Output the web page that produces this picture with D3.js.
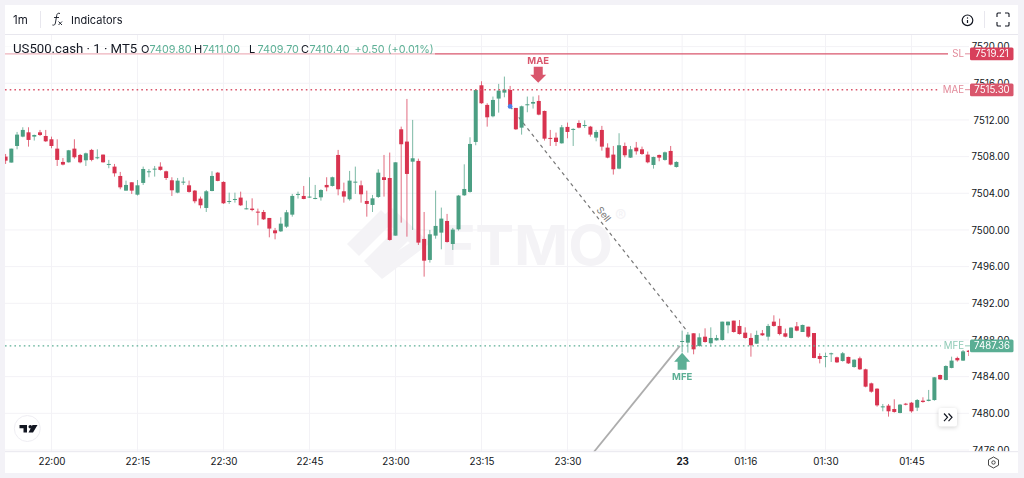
<!DOCTYPE html>
<html><head><meta charset="utf-8">
<script src="https://cdn.jsdelivr.net/npm/d3@7/dist/d3.min.js"></script>
<style>
html,body{margin:0;padding:0;background:#f3f2f7;width:1024px;height:478px;overflow:hidden}
svg{display:block;filter:blur(0.35px)}
text{font-family:Inter,Roboto,"Noto Sans",sans-serif}
</style></head><body><svg id="c" width="1024" height="478"></svg>
<script>
const firstIndex = -8;
const opens = [7508.00,7507.35,7509.16,7510.18,7510.65,7510.18,7510.65,7510.25,7509.89,7508.87,
7507.42,7507.38,7508.87,7508.18,7507.60,7508.73,7507.85,7508.22,7507.13,7506.91,
7505.89,7504.29,7505.20,7503.85,7505.13,7506.33,7506.62,7506.91,7506.40,7505.42,
7504.07,7505.20,7504.87,7504.29,7503.42,7502.40,7504.25,7506.25,7505.24,7503.09,
7503.31,7503.53,7502.29,7502.33,7502.00,7501.96,7501.31,7499.96,7499.85,7500.36,
7501.67,7503.85,7503.71,7503.56,7503.42,7503.56,7504.91,7504.80,7508.18,7504.22,
7503.35,7505.16,7504.87,7503.16,7502.73,7503.60,7505.75,7505.67,7499.38,7510.98,
7509.64,7507.45,7507.53,7499.02,7496.73,7499.38,7499.71,7500.98,7498.47,7500.07,
7503.78,7504.15,7509.60,7515.78,7513.64,7512.40,7514.33,7514.98,7515.27,7513.31,
7511.16,7513.64,7513.78,7514.07,7512.98,7510.04,7510.07,7509.45,7511.24,7510.95,
7511.67,7511.38,7511.27,7510.07,7510.91,7508.98,7508.22,7506.69,7509.16,7507.89,
7508.98,7508.80,7508.22,7507.09,7508.18,7507.64,7508.62,7506.87,
7487.78,7487.71,7488.73,7487.35,7488.36,7487.64,7487.96,7488.00,7489.60,7490.11,7489.53,7488.80,
7488.22,7487.60,7488.73,7488.36,7490.00,7489.53,7488.73,7488.22,7489.49,7488.87,
7489.45,7488.76,7486.25,7486.18,7486.47,7486.11,7485.71,7486.15,7485.05,7486.00,
7484.80,7483.27,7482.69,7480.69,7480.84,7480.47,7480.04,7481.05,7481.16,7480.62,
7481.38,7481.35,7481.45,7484.18,7483.64,7484.95,7486.04,7485.75,7486.84];
const highs = [7508.29,7508.87,7510.69,7511.20,7511.20,7510.40,7510.91,7510.91,7510.18,7509.89,
7507.85,7508.73,7509.89,7508.29,7508.44,7508.84,7508.80,7508.22,7507.64,7507.20,
7506.33,7505.38,7505.20,7505.45,7506.91,7506.65,7506.98,7507.38,7506.47,7505.75,
7505.67,7505.75,7505.38,7504.36,7503.64,7504.36,7506.40,7506.33,7505.31,7504.07,
7504.07,7504.18,7503.20,7503.45,7502.33,7502.18,7501.31,7500.22,7501.38,7502.18,
7503.93,7504.18,7504.80,7505.75,7504.91,7504.44,7505.75,7505.82,7508.73,7505.16,
7506.44,7506.91,7505.38,7504.29,7503.82,7506.62,7508.18,7508.44,7507.38,7511.27,
7514.29,7512.00,7507.78,7501.96,7500.00,7504.29,7502.44,7501.75,7500.22,7503.82,
7507.16,7510.11,7515.35,7516.22,7513.82,7514.55,7515.93,7516.73,7515.71,7513.31,
7513.56,7514.55,7514.55,7514.69,7513.02,7510.91,7510.62,7511.45,7511.71,7511.09,
7511.96,7511.96,7511.35,7510.91,7511.35,7509.45,7509.16,7510.55,7509.53,7509.16,
7509.60,7509.09,7508.55,7508.00,7508.22,7508.55,7509.16,7507.49,
7489.02,7488.87,7488.73,7488.73,7489.27,7489.38,7488.55,7490.00,7490.00,7490.11,7490.18,7489.38,
7488.73,7489.02,7489.09,7489.75,7490.69,7490.33,7489.24,7489.38,7489.96,7489.67,
7489.45,7488.76,7486.55,7486.62,7486.62,7486.18,7486.69,7486.18,7485.89,7486.18,
7484.87,7483.35,7482.73,7481.02,7481.02,7481.53,7481.02,7481.13,7481.24,7481.56,
7481.75,7482.55,7483.96,7484.22,7485.24,7486.18,7486.18,7486.91,7486.91];
const lows = [7507.20,7507.35,7508.80,7510.11,7509.09,7509.75,7510.25,7509.60,7508.91,7506.98,
7507.05,7507.35,7507.78,7507.27,7506.98,7507.49,7507.71,7507.35,7506.73,7505.82,
7504.44,7504.29,7503.93,7503.75,7504.91,7505.75,7505.82,7506.47,7505.45,7503.71,
7504.00,7504.91,7504.07,7502.91,7502.36,7501.96,7504.22,7505.31,7502.84,7502.84,
7502.98,7502.62,7502.25,7502.04,7500.51,7501.09,7499.20,7498.98,7499.78,7500.22,
7501.45,7503.42,7503.35,7503.49,7503.35,7503.20,7504.22,7504.73,7503.78,7502.98,
7503.20,7503.93,7502.98,7501.45,7501.96,7503.49,7503.64,7498.84,7499.38,7500.80,
7499.27,7500.00,7498.36,7494.91,7496.44,7499.05,7497.89,7498.62,7497.82,7499.93,
7503.71,7504.07,7509.24,7513.75,7511.27,7512.29,7512.80,7514.47,7513.45,7510.91,
7510.40,7512.84,7513.24,7512.51,7509.75,7509.16,7509.16,7509.42,7510.00,7509.16,
7511.09,7511.13,7510.18,7509.67,7508.65,7507.82,7506.04,7506.62,7507.93,7507.85,
7508.22,7508.18,7507.27,7506.69,7507.49,7507.56,7507.05,7506.80,
7486.65,7486.62,7486.44,7487.27,7487.71,7487.27,7487.93,7487.93,7488.73,7488.80,7488.58,7488.15,
7486.18,7487.56,7488.44,7487.93,7489.45,7488.51,7488.29,7488.18,7488.95,7488.87,
7488.22,7486.00,7485.45,7485.02,7485.60,7485.49,7485.64,7485.38,7484.98,7484.73,
7482.84,7482.25,7480.73,7480.22,7479.64,7480.07,7480.00,7480.87,7480.07,7480.25,
7481.16,7481.31,7481.38,7483.64,7483.60,7484.91,7485.64,7485.71,7486.25];
const closes = [7507.56,7508.87,7510.40,7510.91,7509.82,7510.36,7510.36,7509.67,7509.16,7507.64,
7507.13,7508.69,7507.93,7507.38,7508.36,7507.64,7507.93,7507.38,7507.20,7506.18,
7504.65,7504.91,7504.29,7504.87,7506.65,7506.40,7506.69,7506.55,7505.67,7504.33,
7505.38,7505.27,7504.15,7503.13,7502.69,7504.22,7505.89,7505.35,7502.91,7503.16,
7503.38,7502.69,7502.36,7502.18,7501.89,7501.16,7500.15,7499.64,7500.69,7501.93,
7503.71,7503.93,7503.38,7503.64,7503.49,7504.36,7504.65,7505.75,7504.44,7503.64,
7505.38,7505.27,7503.89,7502.84,7503.45,7506.25,7505.45,7498.91,7507.38,7509.35,
7506.11,7507.82,7498.62,7496.65,7499.53,7500.44,7501.24,7498.69,7500.04,7503.75,
7504.47,7509.38,7515.27,7513.82,7512.29,7514.18,7515.20,7515.31,7513.60,7510.98,
7513.49,7513.71,7513.96,7512.58,7509.96,7509.96,7509.60,7511.20,7510.69,7511.02,
7511.16,7511.45,7510.40,7510.69,7509.09,7507.89,7506.62,7509.24,7508.15,7508.80,
7508.58,7508.29,7507.38,7507.96,7507.89,7508.47,7507.13,7507.42,
7487.89,7488.58,7486.98,7488.29,7487.78,7488.22,7488.22,7490.00,7490.00,7488.87,7488.65,7488.22,
7487.42,7488.55,7488.51,7489.53,7489.53,7488.65,7488.36,7489.35,7489.02,7489.64,
7488.36,7486.04,7485.93,7486.25,7486.55,7485.56,7486.55,7485.45,7485.85,7484.80,
7482.91,7482.36,7480.87,7480.76,7480.22,7480.15,7480.95,7480.95,7480.22,7481.45,
7481.24,7481.49,7483.93,7483.71,7485.16,7485.75,7485.78,7486.76,7486.69];
const priceTicks = [7476,7480,7484,7488,7492,7496,7500,7504,7508,7512,7516,7520];
const timeTickIndex = [0,15,30,45,60,75,90,110,121,135,150];
const timeTickLabels = ["22:00","22:15","22:30","22:45","23:00","23:15","23:30","23","01:16","01:30","01:45"];
const slPrice = 7519.21, maePrice = 7515.30, mfePrice = 7487.36;
const sellLineIndex = [80,110.7], sellLinePrice = [7513.47,7489.08];
const exitLineIndex = [94.6,109.6], exitLinePrice = [7475.78,7487.36];
const maeIndex = 84.9, mfeIndex = 110;
const legendValues = ["7409.80","7411.00","7409.70","7410.40"];

const GREEN="#4b9f83", RED="#d8334f", TXT="#131722", TEAL="#5caf95", SOFTRED="#d9566c";
const FONT_AX="Inter,Roboto,sans-serif";
const x=d3.scaleLinear().domain([firstIndex,160]).range([5.6,968.8]);
const y=d3.scaleLinear().domain([7476,7520]).range([450.0,46.6]);
const svg=d3.select("#c");
svg.append("rect").attr("x",5).attr("y",5).attr("width",1013).attr("height",468).attr("fill","#fff");
const defs=svg.append("defs");
defs.append("clipPath").attr("id","plot").append("rect").attr("x",5).attr("y",35).attr("width",964).attr("height",417);
defs.append("clipPath").attr("id","pa").append("rect").attr("x",969).attr("y",35).attr("width",49).attr("height",416.5);
const plot=svg.append("g").attr("clip-path","url(#plot)");

// grid
plot.append("g").selectAll("line").data(priceTicks).join("line")
 .attr("x1",5).attr("x2",969).attr("y1",d=>y(d)).attr("y2",d=>y(d)).attr("stroke","#f3f2f6");
plot.append("g").selectAll("line").data(timeTickIndex).join("line")
 .attr("x1",d=>x(d)).attr("x2",d=>x(d)).attr("y1",35).attr("y2",452).attr("stroke","#f3f2f6");

// watermark
const wm=plot.append("g").attr("fill","#f4f3f6");
[[[347,244],[381,210],[393,222],[359,256]],
 [[364,261],[398,227],[410,239],[376,273]],
 [[382,279],[430,243],[392,208],[381,218],[410,243],[371,268]]].forEach(p=>wm.append("polygon").attr("points",p.join(" ")));
wm.append("text").attr("x",441).attr("y",265).attr("font-size",55).attr("font-weight",700)
 .attr("textLength",172).attr("lengthAdjust","spacingAndGlyphs").text("FTMO");
wm.append("text").attr("x",615).attr("y",222).attr("font-size",17).text("®");

// trade lines
plot.append("line").attr("x1",x(exitLineIndex[0])).attr("y1",y(exitLinePrice[0])).attr("x2",x(exitLineIndex[1])).attr("y2",y(exitLinePrice[1]))
 .attr("stroke","#adadad").attr("stroke-width",1.8);
plot.append("line").attr("x1",x(sellLineIndex[0])).attr("y1",y(sellLinePrice[0])).attr("x2",x(sellLineIndex[1])).attr("y2",y(sellLinePrice[1]))
 .attr("stroke","#777").attr("stroke-width",1.2).attr("stroke-dasharray","3.5 3.5");

// candles
const idx=d3.range(opens.length);
const col=i=>closes[i]>=opens[i]?GREEN:RED;
const cg=plot.append("g");
cg.selectAll("line").data(idx).join("line")
 .attr("x1",i=>x(i+firstIndex)).attr("x2",i=>x(i+firstIndex))
 .attr("y1",i=>y(highs[i])).attr("y2",i=>y(lows[i]))
 .attr("stroke",col).attr("stroke-width",0.9).attr("opacity",0.8);
cg.selectAll("rect").data(idx).join("rect")
 .attr("x",i=>x(i+firstIndex)-2).attr("width",4)
 .attr("y",i=>y(Math.max(opens[i],closes[i])))
 .attr("height",i=>Math.max(1,Math.abs(y(opens[i])-y(closes[i]))))
 .attr("fill",col);

// entry dot
plot.append("circle").attr("cx",x(sellLineIndex[0])).attr("cy",y(sellLinePrice[0])).attr("r",2.4).attr("fill","#4a80e8");

// sell label
const sp=[x(d3.mean(sellLineIndex))-1,y(d3.mean(sellLinePrice))-5];
svg.append("text").attr("transform",`translate(${sp[0]+4},${sp[1]+3}) rotate(51.5)`).attr("text-anchor","middle")
 .attr("font-size",9.5).attr("fill","#777").text("Sell");

// horizontal price lines
svg.append("line").attr("x1",5).attr("x2",948).attr("y1",y(slPrice)).attr("y2",y(slPrice)).attr("stroke",SOFTRED).attr("stroke-width",1.4);
svg.append("line").attr("x1",5).attr("x2",938).attr("y1",y(maePrice)).attr("y2",y(maePrice)).attr("stroke",SOFTRED).attr("stroke-width",1.4).attr("stroke-dasharray","1.6 3.1");
svg.append("line").attr("x1",5).attr("x2",941).attr("y1",y(mfePrice)).attr("y2",y(mfePrice)).attr("stroke",TEAL).attr("stroke-width",1.4).attr("stroke-dasharray","1.6 3.1");

// arrows
const ax=x(maeIndex), ay=y(maePrice);
svg.append("polygon").attr("points",[[ax-4.5,ay-23],[ax+4.5,ay-23],[ax+4.5,ay-15],[ax+8,ay-15],[ax,ay-7],[ax-8,ay-15],[ax-4.5,ay-15]].join(" ")).attr("fill",SOFTRED);
svg.append("text").attr("x",ax).attr("y",ay-25.5).attr("text-anchor","middle").attr("font-size",9.5).attr("font-weight",700).attr("fill",SOFTRED).text("MAE");
const bx=x(mfeIndex), by=y(mfePrice);
svg.append("polygon").attr("points",[[bx,by+7],[bx+8,by+16],[bx+4.5,by+16],[bx+4.5,by+24],[bx-4.5,by+24],[bx-4.5,by+16],[bx-8,by+16]].join(" ")).attr("fill",TEAL);
svg.append("text").attr("x",bx).attr("y",by+34.5).attr("text-anchor","middle").attr("font-size",9.5).attr("font-weight",700).attr("fill",TEAL).text("MFE");

// legend
svg.append("rect").attr("x",5).attr("y",40).attr("width",430).attr("height",15.5).attr("fill","#fff").attr("opacity",0.55);
const lg=svg.append("g");
lg.append("text").attr("x",13).attr("y",53).attr("font-size",13.2).style("font-family","Roboto,sans-serif").attr("fill",TXT).text("US500.cash · 1 · MT5");
["O","H","L","C"].forEach((k,i)=>{
  const x0=[141,194,249,301][i];
  lg.append("text").attr("x",x0).attr("y",53).attr("font-size",11).attr("fill",TXT).text(k);
  lg.append("text").attr("x",x0+8.5).attr("y",53).attr("font-size",10.8).attr("fill",TEAL).text(legendValues[i]);
});
lg.append("text").attr("x",354.5).attr("y",53).attr("font-size",10.8).attr("fill",TEAL).text("+0.50 (+0.01%)");

// axes
const pa=svg.append("g").attr("clip-path","url(#pa)").append("g").attr("transform","translate(1009.5,0)")
 .call(d3.axisLeft(y).tickValues(priceTicks).tickSize(0).tickPadding(0).tickFormat(d=>d.toFixed(2)));
pa.select(".domain").remove();
pa.selectAll("text").attr("font-size",9.7).attr("fill",TXT).style("font-family",FONT_AX);

svg.append("line").attr("x1",5).attr("x2",1018).attr("y1",451.7).attr("y2",451.7).attr("stroke","#e8e7ee");
const ta=svg.append("g").attr("transform","translate(0,451)")
 .call(d3.axisBottom(x).tickValues(timeTickIndex).tickSize(0).tickPadding(7).tickFormat((d,i)=>timeTickLabels[i]));
ta.select(".domain").remove();
ta.selectAll("text").attr("font-size",9.8).attr("fill",TXT).style("font-family",FONT_AX)
 .attr("font-weight",(d,i)=>timeTickLabels[i]==="23"?700:400);

// price tags
[[slPrice,"#d8405b","SL","#e28b9b"],[maePrice,"#d9566c","MAE","#e28b9b"],[mfePrice,"#5aae94","MFE","#8fcab6"]].forEach(([p,c,l,lc])=>{
  const yy=y(p);
  svg.append("line").attr("x1",965).attr("x2",970).attr("y1",yy).attr("y2",yy).attr("stroke",lc);
  svg.append("rect").attr("x",970).attr("y",yy-6.3).attr("width",43.5).attr("height",12.8).attr("rx",1.5).attr("fill",c);
  svg.append("text").attr("x",992).attr("y",yy+3.6).attr("text-anchor","middle").attr("font-size",9.7).attr("fill","#fff").text(p.toFixed(2));
  svg.append("text").attr("x",964).attr("y",yy+3.6).attr("text-anchor","end").attr("font-size",9.7).attr("fill",lc).text(l);
});

// toolbar
svg.append("line").attr("x1",5).attr("x2",1018).attr("y1",34.5).attr("y2",34.5).attr("stroke","#e8e7ee");
svg.append("text").attr("x",13).attr("y",24).attr("font-size",11.5).attr("fill",TXT).text("1m");
svg.append("line").attr("x1",40.5).attr("x2",40.5).attr("y1",11).attr("y2",28).attr("stroke","#e8e7ee");
svg.append("path").attr("d","M60 13.5c-2-.8-3 .2-3.3 2L55.4 23c-.3 1.800-1.300 2.500-3 2M54 17.500h5").attr("fill","none").attr("stroke",TXT).attr("stroke-width",0.9);
svg.append("path").attr("d","M58.500 21.500l3.500 3.500M62 21.500l-3.500 3.500").attr("fill","none").attr("stroke",TXT).attr("stroke-width",0.9);
svg.append("text").attr("x",71).attr("y",24).attr("font-size",11).attr("fill",TXT).text("Indicators");
svg.append("circle").attr("cx",967.5).attr("cy",20.300).attr("r",5.3).attr("fill","none").attr("stroke",TXT).attr("stroke-width",1.2);
svg.append("line").attr("x1",967.5).attr("x2",967.5).attr("y1",20).attr("y2",23).attr("stroke",TXT).attr("stroke-width",1.2);
svg.append("circle").attr("cx",967.5).attr("cy",18).attr("r",0.7).attr("fill",TXT);
svg.append("line").attr("x1",984.5).attr("x2",984.5).attr("y1",11).attr("y2",28).attr("stroke","#e8e7ee");
svg.append("path").attr("d","M997 17v-3a1 1 0 0 1 1-1h3M1005 13h3a1 1 0 0 1 1 1v3M1009 22v3a1 1 0 0 1-1 1h-3M1001 26h-3a1 1 0 0 1-1-1v-3").attr("fill","none").attr("stroke",TXT).attr("stroke-width",1.1);

// logo badge
svg.append("circle").attr("cx",27.300).attr("cy",428.500).attr("r",13).attr("fill","#fff").attr("stroke","#eeedf2");
svg.append("path").attr("d","M19.500 425h7.500v7.500h-3.500v-4.200h-4zM32.500 425h5l-4.500 7.500h-4.500z").attr("fill","#131722");
svg.append("circle").attr("cx",30.300).attr("cy",426.800).attr("r",1.800).attr("fill","#131722");

// scroll button
svg.append("rect").attr("x",938.5).attr("y",408).attr("width",18.500).attr("height",18.500).attr("rx",2.500).attr("fill","#fff").style("filter","drop-shadow(0 1px 2px rgba(0,0,0,.18))");
svg.append("path").attr("d","M944 413.500l3.500 3.800-3.500 3.800M948.500 413.500l3.500 3.800-3.500 3.800").attr("fill","none").attr("stroke",TXT).attr("stroke-width",1.2);

// settings
svg.append("path").attr("d","M993.500 457l5 2.800v5.400l-5 2.800-5-2.800v-5.400z").attr("fill","none").attr("stroke","#333").attr("stroke-width",0.9);
svg.append("circle").attr("cx",993.500).attr("cy",462.500).attr("r",1.700).attr("fill","none").attr("stroke","#333").attr("stroke-width",0.9);
</script></body></html>
